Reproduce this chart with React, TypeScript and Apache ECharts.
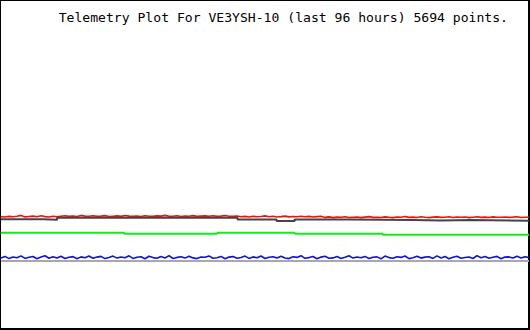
import React, { useEffect, useRef } from "react";
import * as echarts from "echarts";

const TITLE = "Telemetry Plot For VE3YSH-10 (last 96 hours) 5694 points.";
const HOURS = 96;

// red channel samples (evenly spaced over 96 h)
const redValues = [
  113.4, 113.0, 113.6, 113.2, 113.8, 114.6, 113.1, 113.5, 113.9, 113.2, 114.2, 113.4, 113.0, 113.7, 113.3,
  113.8, 114.3, 113.6, 114.0, 113.5, 114.6, 113.9, 113.7, 114.2, 113.6,
  113.9, 114.4, 113.5, 113.8, 114.1, 113.6, 114.5, 113.9, 113.7, 114.0,
  113.5, 114.3, 113.8, 113.6, 114.1, 113.9, 114.6, 113.7, 113.8, 114.2,
  113.5, 114.0, 113.8, 114.4, 113.6, 113.9, 114.1, 113.7, 114.3, 113.6,
  113.9, 114.5, 113.8, 113.6, 114.0,
  113.2, 113.6, 113.0, 113.8, 113.3, 113.5, 114.1, 113.2, 113.7, 113.0, 113.4, 113.9, 113.1, 113.5, 113.3,
  113.8, 113.2, 113.6, 113.0, 113.4, 113.7,
  112.6, 113.1, 112.4, 112.9, 112.7, 113.3, 112.5, 112.8, 113.0, 112.4,
  112.9, 113.4, 112.6, 112.8, 112.5, 113.1, 112.7, 112.4, 113.0, 112.8,
  113.5, 112.6, 112.9, 112.5, 113.2, 112.7, 112.4, 112.9, 113.1, 112.6,
  112.8, 113.3, 112.5, 112.9, 112.7, 113.0, 112.4, 112.8, 113.2, 112.6,
  112.9, 112.5, 113.1, 112.7, 112.8, 113.0, 112.6, 112.9, 113.3, 112.5,
  112.8, 112.7,
];

// dark grey channel (step changes)
const grayHours = [0, 7.7, 10.2, 43.0, 50.1, 53.4, 63.6, 74.9, 80.0, 85.4, 96];
const grayValues = [110.7, 110.2, 112.2, 110.5, 109.0, 110.5, 110.0, 109.6, 110.0, 109.3, 109.3];

// green channel (step changes)
const greenHours = [0, 22.4, 39.3, 53.4, 69.4, 96];
const greenValues = [97.3, 96.3, 97.2, 96.2, 95.2, 95.2];

// blue channel samples (evenly spaced over 96 h)
const blueValues = [
  72.0, 73.6, 71.4, 73.0, 72.2, 74.1, 71.6, 72.8, 73.5, 71.3,
  72.9, 74.3, 71.8, 73.2, 72.1, 73.8, 71.5, 72.7, 73.4, 71.2,
  73.1, 72.3, 74.0, 71.7, 72.9, 73.6, 71.4, 72.5, 73.9, 71.9,
  73.0, 72.2, 74.2, 71.6, 72.8, 73.3, 71.3, 73.7, 72.4, 71.8,
  73.5, 72.0, 74.4, 71.5, 72.6, 73.2, 71.9, 73.8, 72.1, 71.4,
  73.0, 72.7, 74.1, 71.7, 72.3, 73.6, 71.2, 72.9, 73.4, 71.8,
  72.5, 73.9, 71.6, 73.1, 72.2, 74.0, 71.5, 72.8, 73.3, 71.9,
  73.7, 72.0, 71.4, 73.2, 72.6, 74.3, 71.7, 72.4, 73.5, 71.3,
  72.9, 73.8, 71.8, 72.1, 73.4, 71.6, 72.7, 74.2, 71.9, 73.0,
  72.3, 73.6, 71.5, 72.8, 73.1, 71.2, 73.9, 72.4, 71.7, 73.3,
  72.6, 74.0, 71.4, 72.2, 73.7, 71.9, 72.9, 73.2, 71.6, 74.1,
  72.0, 73.5, 71.3, 72.7, 73.8, 71.8, 72.5, 73.0, 71.5, 74.4,
  72.3, 73.4, 71.7, 72.8, 73.6, 71.2, 72.9, 73.1, 71.9, 73.7,
  72.1, 73.3, 72.4,
];

// light grey reference channel
const refHours = [0, 96];
const refValues = [69, 69];

const spread = (vals: number[]) =>
  vals.map((v, i) => [(i * HOURS) / (vals.length - 1), v]);
const pair = (xs: number[], ys: number[]) => xs.map((x, i) => [x, ys[i]]);

export default function App() {
  const ref = useRef<HTMLDivElement>(null);
  useEffect(() => {
    document.body.style.margin = "0";
    const chart = echarts.init(ref.current!, undefined, { renderer: "svg" });
    const line = (data: number[][], color: string, width: number, step?: string) => ({
      type: "line",
      data,
      step: step || false,
      symbol: "none",
      showSymbol: false,
      silent: true,
      lineStyle: { color, width },
    });
    chart.setOption({
      animation: false,
      backgroundColor: "#ffffff",
      grid: { left: 1, right: 1, top: 0, bottom: 0 },
      xAxis: { type: "value", min: 0, max: HOURS, show: false },
      yAxis: { type: "value", min: 0, max: 330, show: false },
      series: [
        line(pair(refHours, refValues), "#a8a8a8", 2),
        line(spread(blueValues), "#1010e0", 1.6),
        line(pair(greenHours, greenValues), "#10f010", 2, "end"),
        line(spread(redValues), "#ee1111", 1.6),
        line(pair(grayHours, grayValues), "#444444", 2, "end"),
      ],
      graphic: [
        {
          type: "rect",
          shape: { x: 0, y: 0, width: 529, height: 329 },
          style: { fill: "none", stroke: "#000000", lineWidth: 2 },
          silent: true,
        },
        {
          type: "text",
          x: 508,
          y: 17,
          style: {
            text: TITLE,
            font: "13.1px 'DejaVu Sans Mono', 'Liberation Mono', monospace",
            fill: "#000000",
            textAlign: "right",
            textVerticalAlign: "middle",
          },
          silent: true,
        },
      ],
    });
    return () => chart.dispose();
  }, []);
  return <div ref={ref} style={{ width: 530, height: 330 }} />;
}
